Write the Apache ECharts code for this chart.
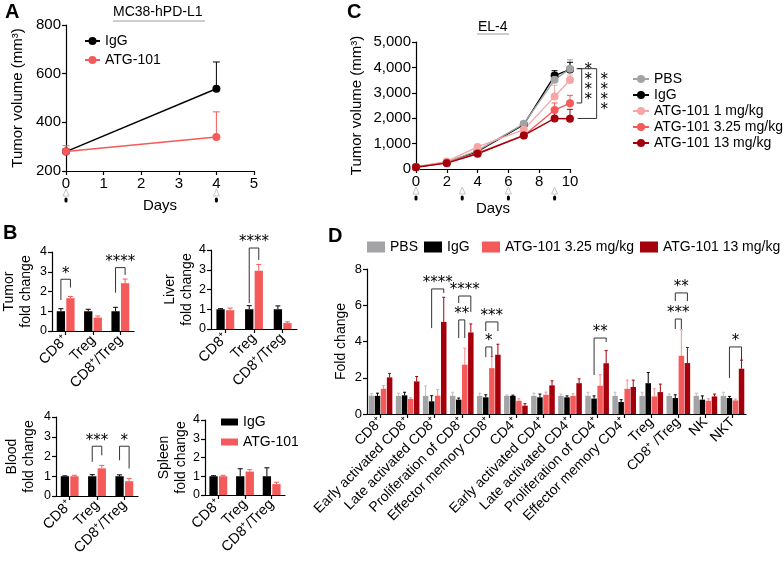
<!DOCTYPE html>
<html><head><meta charset="utf-8">
<script src="https://cdn.jsdelivr.net/npm/echarts@6/dist/echarts.min.js"></script>
<style>html,body{margin:0;padding:0;background:#fff}#c{width:784px;height:565px}</style>
</head><body><div id="c"></div>
<script>
const FONT = '"Liberation Sans", Arial, Helvetica, sans-serif';
const STAR_FONT = '15px "DejaVu Sans", sans-serif';

// ---------- Panel A (MC38-hPD-L1) ----------
const aDays = [0, 4];
const aIgG = [280, 538];
const aIgGErr = [290, 648];
const aATG = [280, 340];
const aATGErr = [304, 443];
const aInjectionDays = [0, 4];

// ---------- Panel C (EL-4) ----------
const cDays = [0, 2, 4, 7, 9, 10];
const cPBS = [80, 270, 720, 1780, 3510, 3950];
const cPBSErr = [95, 300, 780, 1850, 3800, 4300];
const cIgG = [80, 260, 690, 1750, 3680, 3920];
const cIgGErr = [95, 290, 760, 1820, 3870, 4200];
const cATG1 = [80, 300, 870, 1550, 2850, 3500];
const cATG1Err = [95, 330, 920, 1620, 3300, 3700];
const cATG325 = [70, 250, 620, 1320, 2320, 2590];
const cATG325Err = [85, 280, 680, 1400, 2600, 2900];
const cATG13 = [70, 230, 600, 1320, 1990, 1980];
const cATG13Err = [85, 260, 650, 1380, 2350, 2350];
const cInjectionDays = [0, 3, 6, 9];
// [stubStartDay, bracketDay, topVolume, bottomVolume, textDay, textVolume, label]
const cBrackets = [
  [10.43, 10.76, 3950, 2600, 11.19, 3405, '****'],
  [10.5, 11.73, 3950, 1990, 12.23, 3031, '****']
];

// ---------- Panel B ----------
const bCats = ['CD8⁺', 'Treg', 'CD8⁺/Treg'];
const tumorIgG = [1.0, 1.0, 1.0];
const tumorIgGErr = [1.13, 1.1, 1.2];
const tumorATG = [1.66, 0.68, 2.42];
const tumorATGErr = [1.75, 0.76, 2.63];
const liverIgG = [1.0, 1.0, 1.0];
const liverIgGErr = [1.03, 1.18, 1.17];
const liverATG = [0.95, 2.95, 0.3];
const liverATGErr = [1.06, 3.27, 0.36];
const bloodIgG = [1.0, 1.0, 1.0];
const bloodIgGErr = [1.02, 1.08, 1.07];
const bloodATG = [1.0, 1.4, 0.75];
const bloodATGErr = [1.05, 1.55, 0.88];
const spleenIgG = [1.0, 1.0, 1.0];
const spleenIgGErr = [1.03, 1.4, 1.45];
const spleenATG = [1.0, 1.25, 0.58];
const spleenATGErr = [1.05, 1.35, 0.68];
// [category, leftSeries, rightSeries, top, leftBottom, rightBottom, label]
const tumorBrackets = [[0, 0, 1, 2.62, 1.57, 2.2, '*'], [2, 0, 1, 3.21, 1.94, 2.84, '****']];
const liverBrackets = [[1, 0, 1, 4.1, 1.31, 3.5, '****']];
const bloodBrackets = [[1, 0, 1, 2.52, 1.73, 2.06, '***'], [2, 0, 1, 2.52, 1.81, 1.39, '*']];

// ---------- Panel D ----------
const dCats = ['CD8⁺', 'Early activated CD8⁺', 'Late activated CD8⁺', 'Proliferation of CD8⁺',
  'Effector memory CD8⁺', 'CD4⁺', 'Early activated CD4⁺', 'Late activated CD4⁺',
  'Proliferation of CD4⁺', 'Effector memory CD4⁺', 'Treg', 'CD8⁺ /Treg', 'NK', 'NKT'];
const dPBS = [1.01, 1.0, 1.0, 1.0, 1.0, 1.0, 1.0, 1.0, 1.0, 1.0, 1.0, 1.0, 1.0, 1.0];
const dPBSErr = [1.12, 1.15, 1.55, 1.2, 1.15, 1.05, 1.15, 1.1, 1.2, 1.2, 1.2, 1.1, 1.15, 1.2];
const dIgG = [1.0, 1.03, 0.7, 0.79, 0.92, 1.0, 0.92, 0.92, 0.85, 0.66, 1.7, 0.88, 0.79, 0.88];
const dIgGErr = [1.15, 1.2, 1.01, 0.88, 1.06, 1.04, 1.1, 1.0, 1.0, 0.79, 2.29, 1.06, 1.0, 0.97];
const dATG325 = [1.39, 0.83, 1.01, 2.72, 2.53, 0.73, 1.06, 1.0, 1.56, 1.39, 0.97, 3.21, 0.73, 0.75];
const dATG325Err = [1.56, 0.9, 1.34, 3.63, 3.17, 0.84, 1.21, 1.12, 2.17, 1.87, 1.39, 4.64, 0.84, 0.82];
const dATG13 = [2.02, 1.8, 5.08, 4.5, 3.27, 0.46, 1.58, 1.7, 2.8, 1.49, 1.21, 2.81, 0.97, 2.5];
const dATG13Err = [2.24, 2.07, 6.44, 4.97, 3.85, 0.57, 1.83, 1.94, 3.5, 1.87, 1.65, 3.67, 1.1, 2.97];
const dBrackets = [
  [2, 1, 3, 6.9, 4.74, 6.68, '****'],
  [3, 1, 3, 6.51, 6.12, 5.63, '****'],
  [3, 1, 2, 5.19, 4.19, 4.19, '**'],
  [4, 1, 3, 5.08, 4.58, 4.58, '***'],
  [4, 1, 2, 3.7, 3.14, 3.14, '*'],
  [8, 1, 3, 4.19, 2.15, 3.97, '**'],
  [11, 1, 3, 6.68, 6.23, 6.23, '**'],
  [11, 1, 2, 5.24, 4.69, 4.69, '***'],
  [13, 1, 3, 3.7, 1.99, 2.92, '*']
];

// ---------- colours ----------
const COL = { black: '#000000', red: '#F55A5A', pink: '#F7A6A6', dark: '#A4000C', gray: '#A3A3A5' };

// ---------- helpers ----------
function barOffsets(n, w, gapRatio) {
  const step = w * (1 + gapRatio);
  const total = n * w + (n - 1) * w * gapRatio;
  const out = [];
  for (let i = 0; i < n; i++) out.push(-total / 2 + w / 2 + i * step);
  return out;
}
const B_W = 8.3, B_GAP = 0.15, D_W = 5.5, D_GAP = 0.1;
const bOff = barOffsets(2, B_W, B_GAP);
const dOff = barOffsets(4, D_W, D_GAP);

function zip3(xs, ys, es) { return xs.map((x, i) => [x, ys[i], es[i]]); }
function idx3(ys, es) { return ys.map((y, i) => [i, y, es[i]]); }

function errBars(xi, yi, pts, color, offset, cap) {
  return {
    type: 'custom', xAxisIndex: xi, yAxisIndex: yi, z: 2, silent: true, data: pts,
    renderItem(params, api) {
      const a = api.coord([api.value(0), api.value(1)]);
      const b = api.coord([api.value(0), api.value(2)]);
      const x = a[0] + offset;
      return { type: 'group', children: [
        { type: 'line', shape: { x1: x, y1: a[1], x2: x, y2: b[1] }, style: { stroke: color, lineWidth: 1 } },
        { type: 'line', shape: { x1: x - cap / 2, y1: b[1], x2: x + cap / 2, y2: b[1] }, style: { stroke: color, lineWidth: 1 } }
      ] };
    }
  };
}

function brackets(xi, yi, list, offsets) {
  return {
    type: 'custom', xAxisIndex: xi, yAxisIndex: yi, z: 6, silent: true,
    data: list.map(b => [b[0], b[3], b[1], b[2], b[4], b[5]]),
    renderItem(params, api) {
      const lab = list[params.dataIndex][6];
      const cat = api.value(0);
      const t = api.coord([cat, api.value(1)]);
      const l = api.coord([cat, api.value(4)]);
      const r = api.coord([cat, api.value(5)]);
      const xl = t[0] + offsets[api.value(2)], xr = t[0] + offsets[api.value(3)];
      return { type: 'group', children: [
        { type: 'polyline', shape: { points: [[xl, l[1]], [xl, t[1]], [xr, t[1]], [xr, r[1]]] },
          style: { stroke: '#333', fill: null, lineWidth: 1 } },
        { type: 'text', x: (xl + xr) / 2, y: t[1] + 2,
          style: { text: lab, textAlign: 'center', textVerticalAlign: 'bottom', font: STAR_FONT, fill: '#000' } }
      ] };
    }
  };
}

function injections(xi, yi, days, yBase) {
  return {
    type: 'custom', xAxisIndex: xi, yAxisIndex: yi, silent: true, z: 2,
    data: days.map(d => [d, yBase]),
    renderItem(params, api) {
      const p = api.coord([api.value(0), api.value(1)]);
      const x = p[0], y = p[1];
      return { type: 'group', children: [
        { type: 'polygon', shape: { points: [[x, y + 18], [x - 3, y + 25], [x + 3, y + 25]] },
          style: { stroke: '#c4c4c4', fill: '#fff', lineWidth: 1 } },
        { type: 'rect', shape: { x: x - 1.5, y: y + 26.5, width: 3, height: 5, r: 1.5 }, style: { fill: '#000' } }
      ] };
    }
  };
}

function cBracketSeries() {
  return {
    type: 'custom', xAxisIndex: 1, yAxisIndex: 1, z: 6, silent: true,
    data: cBrackets.map(b => [b[0], b[2], b[1], b[3], b[4], b[5]]),
    renderItem(params, api) {
      const lab = cBrackets[params.dataIndex][6];
      const s0 = api.coord([api.value(0), api.value(1)]);
      const s1 = api.coord([api.value(2), api.value(1)]);
      const s2 = api.coord([api.value(2), api.value(3)]);
      const s3 = api.coord([api.value(0), api.value(3)]);
      const tp = api.coord([api.value(4), api.value(5)]);
      return { type: 'group', children: [
        { type: 'polyline', shape: { points: [s0, s1, s2, s3] }, style: { stroke: '#333', fill: null, lineWidth: 1 } },
        { type: 'text', x: tp[0], y: tp[1] + 3,
          style: { text: lab.split('').join('\n'), textAlign: 'center', textVerticalAlign: 'middle',
            font: STAR_FONT, lineHeight: 10, fill: '#000' } }
      ] };
    }
  };
}

function axisBase(fs) {
  return {
    axisLine: { show: true, onZero: false, lineStyle: { color: '#000', width: 1.2 } },
    axisTick: { show: true, length: 4, lineStyle: { color: '#000', width: 1.2 } },
    axisLabel: { color: '#000', fontSize: fs, fontFamily: FONT, margin: 5 },
    splitLine: { show: false },
    nameTextStyle: { color: '#000', fontSize: fs, fontFamily: FONT }
  };
}
function valX(grid, min, max, interval, fs, name, gap) {
  return Object.assign(axisBase(fs), { type: 'value', gridIndex: grid, min, max, interval,
    name, nameLocation: 'middle', nameGap: gap });
}
function valY(grid, min, max, interval, fs, name, gap, nameFs, fmt) {
  const ax = Object.assign(axisBase(fs), { type: 'value', gridIndex: grid, min, max, interval,
    name, nameLocation: 'middle', nameGap: gap, nameRotate: 90 });
  ax.nameTextStyle = { color: '#000', fontSize: nameFs, fontFamily: FONT, lineHeight: nameFs + 2.5 };
  if (fmt) ax.axisLabel.formatter = fmt;
  return ax;
}
function catX(grid, cats, fs, margin) {
  const ax = Object.assign(axisBase(fs), { type: 'category', gridIndex: grid, data: cats });
  ax.axisTick.alignWithLabel = true;
  ax.axisLabel.rotate = 45;
  ax.axisLabel.interval = 0;
  ax.axisLabel.margin = margin;
  return ax;
}

function lineSeries(name, xi, xs, ys, color) {
  return { type: 'line', name, xAxisIndex: xi, yAxisIndex: xi, z: 3,
    data: xs.map((x, i) => [x, ys[i]]), symbol: 'circle', symbolSize: 8,
    itemStyle: { color }, lineStyle: { color, width: 1.4 } };
}
function barSeries(name, gi, ys, color, w, gap) {
  return { type: 'bar', name, xAxisIndex: gi, yAxisIndex: gi, data: ys, barWidth: w,
    barGap: (gap * 100) + '%', itemStyle: { color } };
}
function bPanel(gi, igg, iggErr, atg, atgErr, br) {
  const s = [
    barSeries('IgG', gi, igg, COL.black, B_W, B_GAP),
    barSeries('ATG-101', gi, atg, COL.red, B_W, B_GAP),
    errBars(gi, gi, idx3(igg, iggErr), COL.black, bOff[0], 5),
    errBars(gi, gi, idx3(atg, atgErr), COL.red, bOff[1], 5)
  ];
  if (br) s.push(brackets(gi, gi, br, bOff));
  return s;
}

const series = [
  // A
  lineSeries('IgG', 0, aDays, aIgG, COL.black),
  lineSeries('ATG-101', 0, aDays, aATG, COL.red),
  errBars(0, 0, zip3(aDays, aIgG, aIgGErr), COL.black, 0, 7),
  errBars(0, 0, zip3(aDays, aATG, aATGErr), COL.red, 0, 7),
  injections(0, 0, aInjectionDays, 200),
  // C
  lineSeries('IgG', 1, cDays, cIgG, COL.black),
  lineSeries('PBS', 1, cDays, cPBS, COL.gray),
  lineSeries('ATG-101 1 mg/kg', 1, cDays, cATG1, COL.pink),
  lineSeries('ATG-101 3.25 mg/kg', 1, cDays, cATG325, COL.red),
  lineSeries('ATG-101 13 mg/kg', 1, cDays, cATG13, COL.dark),
  errBars(1, 1, zip3(cDays, cPBS, cPBSErr), COL.gray, 0, 6),
  errBars(1, 1, zip3(cDays, cIgG, cIgGErr), COL.black, 0, 6),
  errBars(1, 1, zip3(cDays, cATG1, cATG1Err), COL.pink, 0, 6),
  errBars(1, 1, zip3(cDays, cATG325, cATG325Err), COL.red, 0, 6),
  errBars(1, 1, zip3(cDays, cATG13, cATG13Err), COL.dark, 0, 6),
  injections(1, 1, cInjectionDays, 0),
  cBracketSeries(),
  // B
  ...bPanel(2, tumorIgG, tumorIgGErr, tumorATG, tumorATGErr, tumorBrackets),
  ...bPanel(3, liverIgG, liverIgGErr, liverATG, liverATGErr, liverBrackets),
  ...bPanel(4, bloodIgG, bloodIgGErr, bloodATG, bloodATGErr, bloodBrackets),
  ...bPanel(5, spleenIgG, spleenIgGErr, spleenATG, spleenATGErr, null),
  // D
  barSeries('PBS', 6, dPBS, COL.gray, D_W, D_GAP),
  barSeries('IgG', 6, dIgG, COL.black, D_W, D_GAP),
  barSeries('ATG-101 3.25 mg/kg', 6, dATG325, COL.red, D_W, D_GAP),
  barSeries('ATG-101 13 mg/kg', 6, dATG13, COL.dark, D_W, D_GAP),
  errBars(6, 6, idx3(dPBS, dPBSErr), '#BDBDBF', dOff[0], 3),
  errBars(6, 6, idx3(dIgG, dIgGErr), COL.black, dOff[1], 3),
  errBars(6, 6, idx3(dATG325, dATG325Err), '#F78E8E', dOff[2], 3),
  errBars(6, 6, idx3(dATG13, dATG13Err), COL.dark, dOff[3], 3),
  brackets(6, 6, dBrackets, dOff)
];

const legendText = { color: '#000', fontSize: 14, fontFamily: FONT, lineHeight: 16 };
function rectLegend(name, left, top) {
  return { left, top, orient: 'horizontal', itemWidth: 18, itemHeight: 11, selectedMode: false,
    textStyle: legendText, itemStyle: { borderWidth: 0 }, data: [{ name, icon: 'rect' }] };
}

const option = {
  animation: false,
  grid: [
    { left: 66, top: 25, width: 188, height: 146 },   // A
    { left: 416, top: 42, width: 154, height: 127 },  // C
    { left: 52, top: 252, width: 82, height: 79 },    // B tumor
    { left: 211, top: 250, width: 86, height: 79 },   // B liver
    { left: 56, top: 417, width: 82, height: 79 },    // B blood
    { left: 205, top: 420, width: 80, height: 75 },   // B spleen
    { left: 367, top: 269, width: 379, height: 145 }  // D
  ],
  xAxis: [
    valX(0, 0, 5, 1, 15, 'Days', 27),
    valX(1, 0, 10, 2, 15, 'Days', 32),
    catX(2, bCats, 14.5, 7),
    catX(3, bCats, 14.5, 7),
    catX(4, bCats, 14.5, 7),
    catX(5, bCats, 14.5, 7),
    catX(6, dCats, 14, 6)
  ],
  yAxis: [
    valY(0, 200, 800, 200, 15, 'Tumor volume (mm³)', 39, 15),
    valY(1, 0, 5000, 1000, 15, 'Tumor volume (mm³)', 50, 15, v => v.toLocaleString('en-US')),
    valY(2, 0, 4, 1, 12.5, 'Tumor\nfold change', 18, 14),
    valY(3, 0, 4, 1, 12.5, 'Liver\nfold change', 12, 14),
    valY(4, 0, 4, 1, 12.5, 'Blood\nfold change', 19, 14),
    valY(5, 0, 4, 1, 12.5, 'Spleen\nfold change', 15, 14),
    valY(6, 0, 8, 2, 13, 'Fold change', 18, 14)
  ],
  legend: [
    { left: 79, top: 28, orient: 'vertical', itemWidth: 15, itemHeight: 10, itemGap: 3, selectedMode: false,
      textStyle: legendText, data: ['IgG', 'ATG-101'] },
    { left: 627, top: 66, orient: 'vertical', itemWidth: 16, itemHeight: 10, itemGap: 0, selectedMode: false,
      textStyle: legendText,
      data: ['PBS', 'IgG', 'ATG-101 1 mg/kg', 'ATG-101 3.25 mg/kg', 'ATG-101 13 mg/kg'] },
    { left: 216, top: 409, orient: 'vertical', itemWidth: 17, itemHeight: 7, itemGap: 4, selectedMode: false,
      textStyle: legendText, itemStyle: { borderWidth: 0 },
      data: [{ name: 'IgG', icon: 'rect' }, { name: 'ATG-101', icon: 'rect' }] },
    rectLegend('PBS', 362, 234),
    rectLegend('IgG', 419, 234),
    rectLegend('ATG-101 3.25 mg/kg', 477, 234),
    rectLegend('ATG-101 13 mg/kg', 635, 234)
  ],
  graphic: [
    { type: 'text', left: 5, top: 2, style: { text: 'A', font: 'bold 20px ' + FONT, fill: '#000' } },
    { type: 'text', left: 347, top: 2, style: { text: 'C', font: 'bold 20px ' + FONT, fill: '#000' } },
    { type: 'text', left: 3, top: 223, style: { text: 'B', font: 'bold 20px ' + FONT, fill: '#000' } },
    { type: 'text', left: 328, top: 226, style: { text: 'D', font: 'bold 20px ' + FONT, fill: '#000' } },
    { type: 'text', left: 113, top: 5, style: { text: 'MC38-hPD-L1', font: '14px ' + FONT, fill: '#000' } },
    { type: 'line', shape: { x1: 113, y1: 21, x2: 205, y2: 21 }, style: { stroke: '#9a9a9a', lineWidth: 1 } },
    { type: 'text', left: 478, top: 20, style: { text: 'EL-4', font: '14px ' + FONT, fill: '#000' } },
    { type: 'line', shape: { x1: 477, y1: 34, x2: 509, y2: 34 }, style: { stroke: '#9a9a9a', lineWidth: 1 } }
  ],
  series
};

const chart = echarts.init(document.getElementById('c'), null, { renderer: 'canvas' });
chart.setOption(option);
</script>
</body></html>
